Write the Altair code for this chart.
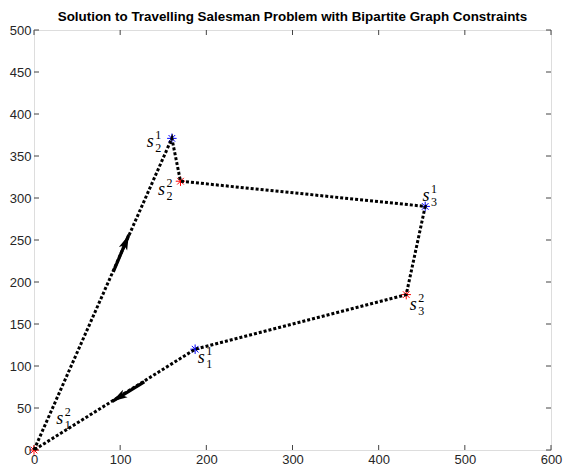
import math
import altair as alt
import pandas as pd

# ---------------- data ----------------
node_names = ["s1_2", "s2_1", "s2_2", "s3_1", "s3_2", "s1_1"]
node_x = [0, 160, 170, 454, 432, 187]
node_y = [0, 371, 320, 290, 185, 120]
node_group = ["second", "first", "second", "first", "second", "first"]
tour_order = [0, 1, 2, 3, 4, 5, 0]

label_sub = ["1", "2", "2", "3", "3", "1"]
label_sup = ["2", "1", "2", "1", "2", "1"]
label_x = [30, 135, 148, 455, 440, 194]
label_y = [37, 367, 309, 302, 173, 109]

arrow_tail_x = [92, 128]
arrow_tail_y = [212, 81]
arrow_tip_x = [110, 91]
arrow_tip_y = [256, 58]

x_ticks = [0, 100, 200, 300, 400, 500, 600]
y_ticks = [0, 50, 100, 150, 200, 250, 300, 350, 400, 450, 500]

title_text = "Solution to Travelling Salesman Problem with Bipartite Graph Constraints"

# ---------------- layout ----------------
W, H = 517, 420
XMAX, YMAX = 600, 500
sx, sy = W / XMAX, H / YMAX
TL = 5  # inward tick length (px)

nodes = pd.DataFrame({"name": node_names, "x": node_x, "y": node_y, "group": node_group})
path = pd.DataFrame({
    "x": [node_x[i] for i in tour_order],
    "y": [node_y[i] for i in tour_order],
    "step": list(range(len(tour_order))),
})
labels = pd.DataFrame({"x": label_x, "y": label_y, "sub": label_sub, "sup": label_sup, "s": ["s"] * len(label_x)})

angles = []
for tx, ty, hx, hy in zip(arrow_tail_x, arrow_tail_y, arrow_tip_x, arrow_tip_y):
    dxp = (hx - tx) * sx
    dyp = -(hy - ty) * sy
    angles.append(math.degrees(math.atan2(dxp, -dyp)) % 360)
arrows = pd.DataFrame({"x": arrow_tail_x, "y": arrow_tail_y, "x2": arrow_tip_x, "y2": arrow_tip_y, "angle": angles})

xt = pd.DataFrame({"x": x_ticks})
yt = pd.DataFrame({"y": y_ticks})

xscale = alt.Scale(domain=[0, XMAX], nice=False, zero=False)
yscale = alt.Scale(domain=[0, YMAX], nice=False, zero=False)
label_font = "Liberation Sans"
xaxis = alt.Axis(values=x_ticks, title=None, grid=False, domain=False, ticks=False,
                 labelFontSize=13, labelColor="#262626", labelFont=label_font, labelPadding=3,
                 labelFlush=False)
yaxis = alt.Axis(values=y_ticks, title=None, grid=False, domain=False, ticks=False,
                 labelFontSize=13, labelColor="#262626", labelFont=label_font, labelPadding=3,
                 labelFlush=False)


def X(f="x"):
    return alt.X(f, type="quantitative", scale=xscale, axis=xaxis)


def Y(f="y"):
    return alt.Y(f, type="quantitative", scale=yscale, axis=yaxis)


asterisk = "M-1,0L1,0M0,-1L0,1M-0.7,-0.7L0.7,0.7M-0.7,0.7L0.7,-0.7"
arrowhead = "M0,0L-0.9,3L0,2.3L0.9,3Z"

stars = alt.Chart(nodes).mark_point(shape=asterisk, filled=False, size=90, strokeWidth=1, opacity=1).encode(
    x=X(), y=Y(),
    color=alt.Color("group:N", scale=alt.Scale(domain=["first", "second"], range=["#0000ff", "#ff0000"]), legend=None),
)

line = alt.Chart(path).mark_line(color="black", strokeWidth=3, strokeDash=[3, 2], strokeCap="butt").encode(
    x=X(), y=Y(), order="step:Q"
)

shafts = alt.Chart(arrows).mark_rule(color="black", strokeWidth=3.2).encode(
    x=X(), y=Y(), x2="x2:Q", y2="y2:Q"
)
heads = alt.Chart(arrows).mark_point(shape=arrowhead, filled=True, size=100, color="black", opacity=1,
                                     strokeWidth=0).encode(
    x=X("x2"), y=Y("y2"), angle=alt.Angle("angle:Q", scale=None)
)

s_text = alt.Chart(labels).mark_text(font="Liberation Serif", fontStyle="italic", fontSize=18,
                                     align="center", baseline="middle", fill="black").encode(
    x=X(), y=Y(), text="s:N")
sup_text = alt.Chart(labels).mark_text(font="Liberation Serif", fontSize=12, align="center",
                                       baseline="middle", dx=8, dy=-7, fill="black").encode(
    x=X(), y=Y(), text="sup:N")
sub_text = alt.Chart(labels).mark_text(font="Liberation Serif", fontSize=12, align="center",
                                       baseline="middle", dx=8, dy=6, fill="black").encode(
    x=X(), y=Y(), text="sub:N")

tick_color = "#444"
bt = alt.Chart(xt).mark_rule(color=tick_color, strokeWidth=1).encode(
    x=X(), y=alt.value(H), y2=alt.value(H - TL))
tt = alt.Chart(xt).mark_rule(color=tick_color, strokeWidth=1).encode(
    x=X(), y=alt.value(0), y2=alt.value(TL))
lt = alt.Chart(yt).mark_rule(color=tick_color, strokeWidth=1).encode(
    y=Y(), x=alt.value(0), x2=alt.value(TL))
rt = alt.Chart(yt).mark_rule(color=tick_color, strokeWidth=1).encode(
    y=Y(), x=alt.value(W), x2=alt.value(W - TL))

chart = alt.layer(bt, tt, lt, rt, stars, line, shafts, heads, s_text, sup_text, sub_text).properties(
    width=W, height=H,
    title=alt.TitleParams(title_text, font="Liberation Sans", fontSize=13.4, fontWeight="bold",
                          color="black", anchor="middle", offset=1),
    autosize=alt.AutoSizeParams(type="none"),
    padding={"left": 26, "top": 22, "right": 15, "bottom": 18},
).configure_view(stroke="#444", strokeWidth=1).configure(background="white")

chart.save("out.html", embed_options={"renderer": "svg", "actions": False})
